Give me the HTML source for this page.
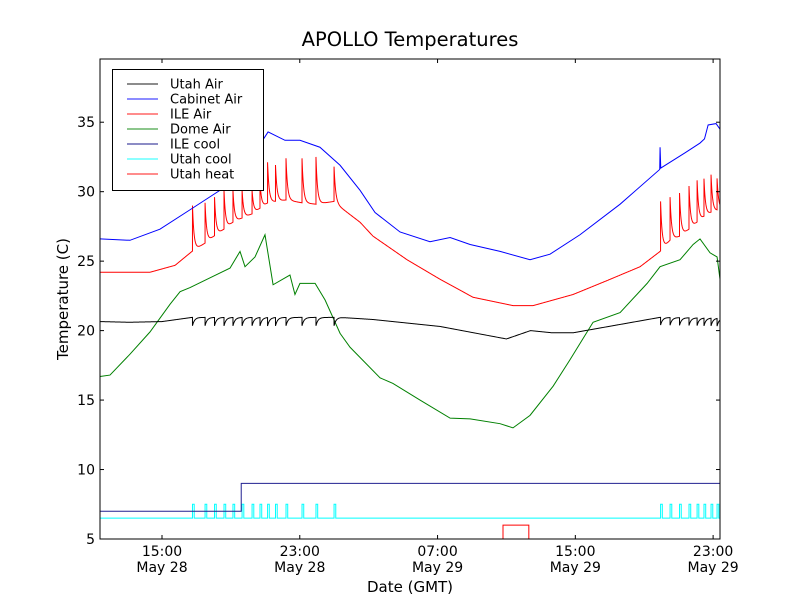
<!DOCTYPE html>
<html><head><meta charset="utf-8"><style>
body{margin:0;background:#fff;}
svg{display:block;font-family:"DejaVu Sans","Liberation Sans",sans-serif;}
</style></head><body>
<svg id="chart" width="800" height="600" viewBox="0 0 800 600" xmlns="http://www.w3.org/2000/svg">
<rect x="0" y="0" width="800" height="600" fill="#fff"/>
<text x="410" y="46" font-size="19.5" text-anchor="middle">APOLLO Temperatures</text>
<g id="series"></g>
<g id="axes"></g>
<text x="410" y="592" font-size="15" text-anchor="middle">Date (GMT)</text>
<text x="68" y="299" font-size="15" text-anchor="middle" transform="rotate(-90 68 299)">Temperature (C)</text>
<g id="legend"></g>
</svg>
<script>
// ---- data (hours since May 28 00:00 GMT, temperatures in C) ----
const xTickHours = [15, 23, 31, 39, 47];
const xTickTimes = ["15:00", "23:00", "07:00", "15:00", "23:00"];
const xTickDates = ["May 28", "May 28", "May 29", "May 29", "May 29"];
const yTicks = [5, 10, 15, 20, 25, 30, 35];

const cabinetHours = [11.4,13.14,14.88,16.63,18.37,20.11,21.16,22.14,23.01,24.17,25.34,26.5,27.37,28.82,30.56,31.73,32.89,34.63,36.37,37.53,39.27,41.6,43.9,43.92,43.96,45.37,46.24,46.5,46.71,47.17,47.4];
const cabinetTemps = [26.6,26.5,27.3,28.7,30.1,32.3,34.3,33.7,33.7,33.2,31.9,30.1,28.5,27.1,26.4,26.7,26.2,25.7,25.1,25.5,26.9,29.1,31.6,33.2,31.7,32.8,33.5,33.8,34.8,34.9,34.5];

const ileBaseHours = [11.4,14.3,15.76,16.74,17.5,18.02,18.6,19.12,19.65,20.23,20.69,21.16,21.62,22.2,23.13,23.94,24.99,25.34,26.5,27.25,29.23,31.14,33.06,35.38,36.55,38.87,40.84,42.76,43.92,44.5,45.07,45.6,46.07,46.47,46.88,47.4];
const ileBaseTemps = [24.2,24.2,24.7,25.7,26.3,26.8,27.3,27.8,28.1,28.4,28.8,29.2,29.3,29.4,29.2,29.1,29.3,28.9,27.8,26.8,25.1,23.7,22.4,21.8,21.8,22.6,23.6,24.6,25.7,26.5,26.8,27.3,27.8,28.2,28.5,28.7];

const spikeHours = [16.77,17.5,18.05,18.6,19.12,19.65,20.23,20.69,21.13,21.59,22.2,23.13,23.94,24.99,43.95,44.5,45.05,45.6,46.07,46.47,46.88,47.23];
const ilePeaks = [29.0,29.2,29.6,30.1,30.1,30.1,30.1,30.7,32.1,31.9,32.4,32.4,32.5,31.8,29.3,29.6,29.9,30.4,30.8,30.9,31.2,30.9];
const utahDips = [0.6,0.6,0.6,0.6,0.6,0.6,0.6,0.6,0.6,0.6,0.6,0.6,0.6,0.6,0.55,0.55,0.55,0.55,0.55,0.55,0.55,0.55];

const utahBaseHours = [11.4,13.1,15.0,16.74,25.34,27.25,31.14,35.0,36.4,37.6,38.9,43.9,47.4];
const utahBaseTemps = [20.65,20.6,20.65,20.95,20.95,20.8,20.3,19.4,20.0,19.85,19.85,20.95,20.9];

const domeHours = [11.4,11.98,13.14,14.3,15.47,16.05,16.63,17.79,18.95,19.53,19.82,20.4,20.98,21.45,22.43,22.72,23.01,23.89,24.47,25.34,25.92,27.66,28.41,29.98,31.73,32.89,34.63,35.38,36.37,37.71,38.69,40.03,41.6,43.17,43.92,45.08,45.84,46.24,46.82,47.23,47.4];
const domeTemps = [16.7,16.8,18.3,19.9,21.9,22.8,23.1,23.8,24.5,25.7,24.6,25.3,26.9,23.3,24.0,22.6,23.4,23.4,22.2,19.8,18.8,16.6,16.2,15.0,13.7,13.65,13.3,13.0,13.9,16.0,17.9,20.6,21.3,23.4,24.6,25.1,26.2,26.6,25.6,25.3,23.7];

const ileCoolSwitchHour = 19.6;
const ileCoolLevels = [7, 9];
const utahCoolLevels = [6.5, 7.5];
const utahHeatOn = [34.8, 36.3];
const utahHeatLevels = [5, 6];

// ---- axes ----
const X0=100, X1=720, Y0=539, Y1=59, HMIN=11.4, HMAX=47.4, TMIN=5, TMAX=39.55;
const X = h => X0 + (h-HMIN)*(X1-X0)/(HMAX-HMIN);
const Y = t => Y0 - (t-TMIN)*(Y0-Y1)/(TMAX-TMIN);
const NS="http://www.w3.org/2000/svg";
function mk(tag, attrs, parent){const e=document.createElementNS(NS,tag);for(const k in attrs)e.setAttribute(k,attrs[k]);parent.appendChild(e);return e;}
function interp(xs, ys, x){if(x<=xs[0])return ys[0];for(let i=1;i<xs.length;i++){if(x<=xs[i]){const f=(x-xs[i-1])/(xs[i]-xs[i-1]);return ys[i-1]+f*(ys[i]-ys[i-1]);}}return ys[ys.length-1];}
function pathFrom(pts){return pts.map((p,i)=>(i?'L':'M')+X(p[0]).toFixed(2)+' '+Y(p[1]).toFixed(2)).join(' ');}

const series=document.getElementById('series');
const axes=document.getElementById('axes');

function spiky(baseH, baseT, amps, tau){
  const times=[];
  for(let t=HMIN;t<=HMAX+1e-9;t+=0.02)times.push(t);
  spikeHours.forEach(s=>{times.push(s-0.001);times.push(s);});
  times.sort((a,b)=>a-b);
  return times.map(t=>{
    let v=interp(baseH,baseT,t);
    spikeHours.forEach((s,i)=>{if(t>=s)v+=amps[i]*Math.exp(-(t-s)/tau);});
    return [t,v];
  });
}

// Utah cool
const coolPts=[[HMIN,utahCoolLevels[0]]];
spikeHours.forEach(s=>{coolPts.push([s,utahCoolLevels[0]],[s,utahCoolLevels[1]],[s+0.1,utahCoolLevels[1]],[s+0.1,utahCoolLevels[0]]);});
coolPts.push([HMAX,utahCoolLevels[0]]);
let e=mk('path',{d:pathFrom(coolPts),fill:'none',stroke:'#00ffff','stroke-width':1},series);



// ILE cool
e=mk('path',{d:pathFrom([[HMIN,ileCoolLevels[0]],[ileCoolSwitchHour,ileCoolLevels[0]],[ileCoolSwitchHour,ileCoolLevels[1]],[HMAX,ileCoolLevels[1]]]),fill:'none',stroke:'#202090','stroke-width':1},series);



// Utah heat
e=mk('path',{d:pathFrom([[HMIN,utahHeatLevels[0]],[utahHeatOn[0],utahHeatLevels[0]],[utahHeatOn[0],utahHeatLevels[1]],[utahHeatOn[1],utahHeatLevels[1]],[utahHeatOn[1],utahHeatLevels[0]],[HMAX,utahHeatLevels[0]]]),fill:'none',stroke:'#ff0000','stroke-width':1},series);



// Dome Air
e=mk('path',{d:pathFrom(domeHours.map((h,i)=>[h,domeTemps[i]])),fill:'none',stroke:'#008000','stroke-width':1},series);



// Utah Air
const utahAmps=utahDips.map(d=>-d);
e=mk('path',{d:pathFrom(spiky(utahBaseHours,utahBaseTemps,utahAmps,0.12)),fill:'none',stroke:'#000','stroke-width':1},series);



// ILE Air
const ileAmps=spikeHours.map((s,i)=>ilePeaks[i]-interp(ileBaseHours,ileBaseTemps,s));
e=mk('path',{d:pathFrom(spiky(ileBaseHours,ileBaseTemps,ileAmps,0.09)),fill:'none',stroke:'#ff0000','stroke-width':1},series);



// Cabinet Air
e=mk('path',{d:pathFrom(cabinetHours.map((h,i)=>[h,cabinetTemps[i]])),fill:'none',stroke:'#0000ff','stroke-width':1},series);



// frame
e=mk('rect',{x:X0,y:Y1,width:X1-X0,height:Y0-Y1,fill:'none',stroke:'#000','stroke-width':1},axes);



yTicks.forEach(t=>{
  const y=Y(t);
  mk('line',{x1:X0,x2:X0+4,y1:y,y2:y,stroke:'#000'},axes);
  mk('line',{x1:X1,x2:X1-4,y1:y,y2:y,stroke:'#000'},axes);
  const tx=mk('text',{x:X0-5,y:y+5,'font-size':14,'text-anchor':'end'},axes);
  tx.textContent=t;
  
  
});
xTickHours.forEach((h,i)=>{
  const x=X(h);
  mk('line',{x1:x,x2:x,y1:Y0,y2:Y0-4,stroke:'#000'},axes);
  mk('line',{x1:x,x2:x,y1:Y1,y2:Y1+4,stroke:'#000'},axes);
  const t1=mk('text',{x:x,y:556,'font-size':14,'text-anchor':'middle'},axes);
  t1.textContent=xTickTimes[i];
  
  
  const t2=mk('text',{x:x,y:572,'font-size':14,'text-anchor':'middle'},axes);
  t2.textContent=xTickDates[i];
  
  
});

// legend
const legendNames=["Utah Air","Cabinet Air","ILE Air","Dome Air","ILE cool","Utah cool","Utah heat"];
const legendColors=["#000","#0000ff","#ff0000","#008000","#00007f","#00ffff","#ff0000"];
const lg=document.getElementById('legend');
mk('rect',{x:112.5,y:69.5,width:151,height:121,fill:'#fff',stroke:'#000','stroke-width':1},lg);
legendNames.forEach((n,i)=>{
  const y=84+i*15;
  const g=mk('g',{},lg);
  
  
  mk('line',{x1:127,x2:158,y1:y,y2:y,stroke:legendColors[i],'stroke-opacity':0.6,'stroke-width':1.5},g);
  const t=mk('text',{x:170,y:y+4.5,'font-size':13},g);
  t.textContent=n;
});
</script>
</body></html>
